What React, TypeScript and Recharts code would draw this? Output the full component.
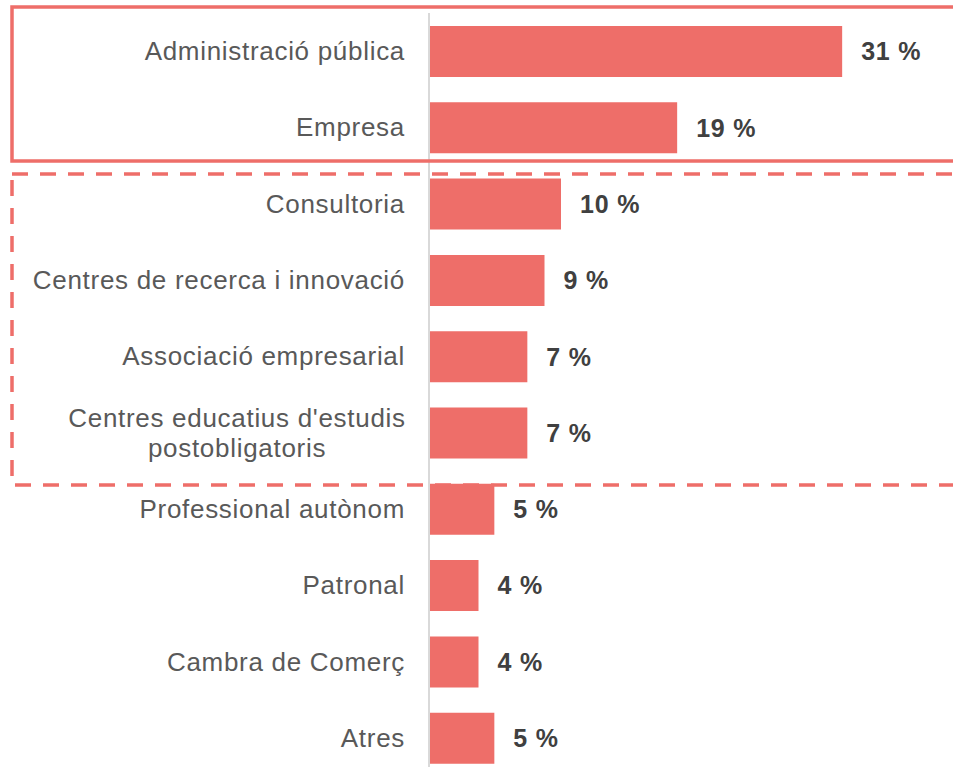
import React from 'react';
import { BarChart, Bar, XAxis, YAxis, LabelList } from 'recharts';

const categories = [
  'Administració pública',
  'Empresa',
  'Consultoria',
  'Centres de recerca i innovació',
  'Associació empresarial',
  "Centres educatius d'estudis\npostobligatoris",
  'Professional autònom',
  'Patronal',
  'Cambra de Comerç',
  'Atres',
];
// estimated underlying shares (bar lengths) and the rounded labels shown
const values = [31.3, 18.8, 10.0, 8.75, 7.45, 7.45, 4.95, 3.75, 3.75, 4.95];
const labels = ['31 %', '19 %', '10 %', '9 %', '7 %', '7 %', '5 %', '4 %', '4 %', '5 %'];

const data = categories.map((name, i) => ({ name, value: values[i], label: labels[i] }));

const RED = '#ee6e69';

const CategoryTick = (props: any) => {
  const { y, payload } = props;
  const lines = String(payload.value).split('\n');
  if (lines.length === 1) {
    return (
      <text x={405} y={y} dy={9} textAnchor="end" fill="#595959" fontSize={26} letterSpacing={0.7}>
        {lines[0]}
      </text>
    );
  }
  // two-line label: lines centred on each other, block right aligned
  const cx = 237;
  return (
    <text x={cx} y={y} textAnchor="middle" fill="#595959" fontSize={26} letterSpacing={0.7}>
      <tspan x={cx} dy={-6}>{lines[0]}</tspan>
      <tspan x={cx} dy={30}>{lines[1]}</tspan>
    </text>
  );
};

export default function App() {
  return (
    <div
      style={{
        position: 'absolute',
        left: 0,
        top: 0,
        width: 953,
        height: 767,
        overflow: 'hidden',
        background: '#fff',
        fontFamily: '"Liberation Sans", Arial, sans-serif',
      }}
    >
      <BarChart
        width={953}
        height={777}
        data={data}
        layout="vertical"
        margin={{ top: 13, right: 62, bottom: 1, left: 0 }}
        barSize={51}
      >
        <XAxis type="number" domain={[0, 35]} hide />
        <YAxis
          type="category"
          dataKey="name"
          width={429}
          axisLine={{ stroke: '#d9d9d9', strokeWidth: 2 }}
          tickLine={false}
          tick={<CategoryTick />}
          interval={0}
        />
        <Bar dataKey="value" fill={RED} isAnimationActive={false}>
          <LabelList
            dataKey="label"
            position="right"
            offset={19}
            fill="#404040"
            fontSize={25}
            fontWeight="bold"
            letterSpacing={0.8}
          />
        </Bar>
      </BarChart>
      <svg
        width={953}
        height={767}
        style={{ position: 'absolute', left: 0, top: 0, pointerEvents: 'none' }}
      >
        <rect x={12} y={7} width={960} height={154} fill="none" stroke={RED} strokeWidth={3.5} />
        <rect
          x={12}
          y={174}
          width={960}
          height={311}
          fill="none"
          stroke={RED}
          strokeWidth={3.5}
          strokeDasharray="16 12"
        />
      </svg>
    </div>
  );
}
